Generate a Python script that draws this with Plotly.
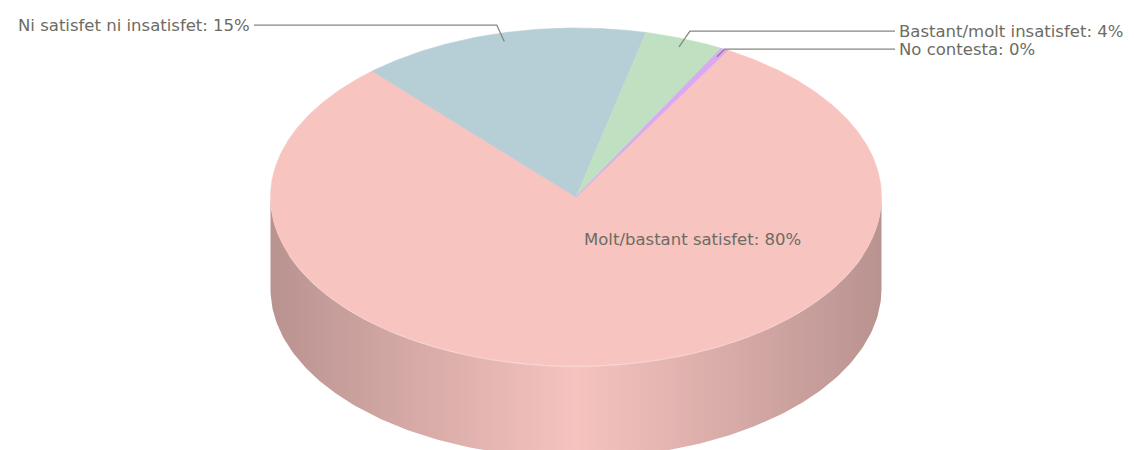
import numpy as np
import plotly.graph_objects as go

# ---- data ----
labels = ["Molt/bastant satisfet", "Ni satisfet ni insatisfet", "Bastant/molt insatisfet", "No contesta"]
values = [80.1, 15.3, 4.2, 0.4]
colors = ["#f7c4c0", "#b6ced5", "#c0e0c2", "#dca8f2"]

# ---- geometry / style ----
W, H = 1134, 450
OFF = 8               # page body margin of the browser
CX, CY = 576.0, 197.0
RX, RY = 305.5, 169.0
DEPTH = 92.0
START = 60.2          # degrees, slices go clockwise from here
TEXT_COLOR = "#6c6c63"
LINE_COLOR = "#86867c"
FONT = "DejaVu Sans"
FSIZE = 16.5
LABEL_GAP = 18.0


def pt(theta_deg, r=1.0):
    t = np.radians(theta_deg)
    return CX + r * RX * np.cos(t), CY - r * RY * np.sin(t)


def darken(hexcol, f):
    h = hexcol.lstrip("#")
    rgb = [int(h[i:i + 2], 16) for i in (0, 2, 4)]
    return "#%02x%02x%02x" % tuple(int(round(c * f)) for c in rgb)


total = float(sum(values))
spans = [v / total * 360.0 for v in values]
starts, ends = [], []
a = START
for s in spans:
    starts.append(a)
    ends.append(a - s)
    a -= s

fig = go.Figure()

# ---- side walls (front half only: angles 180..360) ----
for i in range(len(values)):
    a1, a2 = ends[i], starts[i]
    for shift in (-360, 0, 360):
        lo = max(a1 + shift, 180.0)
        hi = min(a2 + shift, 360.0)
        if hi - lo <= 0.01:
            continue
        th = np.linspace(lo, hi, 200)
        xt, yt = pt(th)
        xs = np.concatenate([xt, xt[::-1]])
        ys = np.concatenate([yt, (yt + DEPTH)[::-1]])
        edge = darken(colors[i], 0.75)
        mid = darken(colors[i], 0.995)
        fig.add_trace(go.Scatter(
            x=xs, y=ys, mode="lines", fill="toself", line=dict(width=0),
            fillcolor=colors[i],
            fillgradient=dict(type="horizontal",
                              colorscale=[[0, edge], [0.5, mid], [1, edge]],
                              start=CX - RX, stop=CX + RX),
            hoverinfo="skip", showlegend=False))

# ---- top faces ----
for i in range(len(values)):
    th = np.linspace(starts[i], ends[i], max(int(spans[i] * 2), 4))
    xa, ya = pt(th)
    xs = np.concatenate([[CX], xa, [CX]])
    ys = np.concatenate([[CY], ya, [CY]])
    fig.add_trace(go.Scatter(
        x=xs, y=ys, mode="lines", fill="toself", fillcolor=colors[i],
        line=dict(width=0.6, color=colors[i]),
        hoverinfo="skip", showlegend=False))

# subtle highlight on front rim
th = np.linspace(200, 340, 200)
xh, yh = pt(th)
fig.add_trace(go.Scatter(x=xh, y=yh + 0.5, mode="lines",
                         line=dict(width=1, color="rgba(255,255,255,0.35)"),
                         hoverinfo="skip", showlegend=False))

# ---- labels ----
annotations = []
outside = []
for i in range(len(values)):
    mid = (starts[i] + ends[i]) / 2.0
    text = f"{labels[i]}: {round(values[i])}%"
    if values[i] > 50:
        x, y = pt(mid, 0.25)
        annotations.append(dict(x=x - 2, y=y, text=text, xanchor="left", yanchor="middle",
                                showarrow=False,
                                font=dict(family=FONT, size=FSIZE, color=TEXT_COLOR)))
    else:
        ex, ey = pt(mid, 1.05)
        outside.append(dict(i=i, mid=mid, text=text, ey=ey,
                            side="left" if np.cos(np.radians(mid)) < 0 else "right"))

for side in ("left", "right"):
    group = sorted([o for o in outside if o["side"] == side], key=lambda o: o["ey"])
    prev = -1e9
    for o in group:
        ly = max(o["ey"], prev + LABEL_GAP)
        prev = ly
        mid = o["mid"]
        tx, ty = pt(mid, 0.95)
        r = (CY - ly) / (RY * np.sin(np.radians(mid)))
        ex, ey = pt(mid, r)
        endx = CX - 322.0 if side == "left" else CX + 319.0
        fig.add_trace(go.Scatter(x=[tx, ex, endx], y=[ty, ey, ey], mode="lines",
                                 line=dict(width=1.3, color=LINE_COLOR),
                                 hoverinfo="skip", showlegend=False))
        annotations.append(dict(
            x=endx + (-2 if side == "left" else 2), y=ey, text=o["text"],
            xanchor="right" if side == "left" else "left", yanchor="middle",
            showarrow=False, font=dict(family=FONT, size=FSIZE, color=TEXT_COLOR)))

fig.update_layout(
    width=W - OFF, height=H - OFF,
    margin=dict(l=0, r=0, t=0, b=0),
    paper_bgcolor="white", plot_bgcolor="white",
    xaxis=dict(range=[OFF, W], visible=False, fixedrange=True),
    yaxis=dict(range=[H, OFF], visible=False, fixedrange=True),
    annotations=annotations,
    showlegend=False,
    hovermode=False,
)

fig.write_html("out.html")
